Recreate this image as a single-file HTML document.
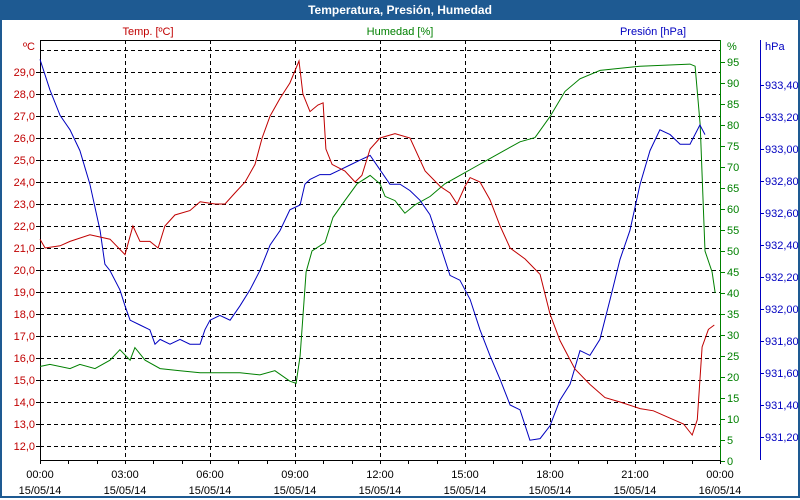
<!DOCTYPE html>
<html><head><meta charset="utf-8"><style>
body{margin:0;width:800px;height:500px;overflow:hidden;background:#fff;font-family:"Liberation Sans",sans-serif}
#frame{position:absolute;left:0;top:0;width:796px;height:496px;border:2px solid #1e5a92;border-top:none}
#title{position:absolute;left:0;top:0;width:800px;height:20px;background:#1e5a92;color:#fff;font-weight:bold;font-size:12px;text-align:center;line-height:20px}
</style></head><body>
<div id="frame"></div>
<div id="title">Temperatura, Presión, Humedad</div>
<svg id="chart" width="800" height="500" style="position:absolute;left:0;top:0" font-family="Liberation Sans, sans-serif" font-size="11"></svg>
<script>
const tempTicks=[12,13,14,15,16,17,18,19,20,21,22,23,24,25,26,27,28,29];
const humTicks=[0,5,10,15,20,25,30,35,40,45,50,55,60,65,70,75,80,85,90,95];
const presTicks=[931.2,931.4,931.6,931.8,932.0,932.2,932.4,932.6,932.8,933.0,933.2,933.4];
const timeLabels=["00:00","03:00","06:00","09:00","12:00","15:00","18:00","21:00","00:00"];
const dateLabels=["15/05/14","15/05/14","15/05/14","15/05/14","15/05/14","15/05/14","15/05/14","15/05/14","16/05/14"];
const tempTime=[0,0.18,0.71,1.06,1.76,2.47,3,3.28,3.53,3.88,4.17,4.41,4.76,5.29,5.65,6.18,6.53,6.88,7.24,7.59,7.84,8.12,8.47,8.82,9.14,9.28,9.53,9.81,9.99,10.09,10.31,10.76,11.12,11.36,11.65,12,12.53,13.06,13.59,14.12,14.47,14.72,15,15.18,15.53,15.88,16.24,16.59,17.12,17.65,18,18.35,18.88,19.41,19.94,20.47,21.18,21.65,22.18,22.71,23.02,23.2,23.37,23.59,23.8];
const tempVals=[21.4,21.0,21.1,21.3,21.6,21.4,20.7,22.0,21.3,21.3,21.0,22.0,22.5,22.7,23.1,23.0,23.0,23.5,24.0,24.8,26.0,27.0,27.8,28.5,29.5,28.0,27.2,27.5,27.6,25.5,24.8,24.5,24.0,24.3,25.5,26.0,26.2,26.0,24.5,23.8,23.5,23.0,23.8,24.2,24.0,23.2,22.0,21.0,20.5,19.8,18.0,16.8,15.5,14.8,14.2,14.0,13.7,13.6,13.3,13.0,12.5,13.2,16.5,17.3,17.5];
const humTime=[0,0.35,1.06,1.41,1.94,2.47,2.82,3.18,3.35,3.71,4.24,4.94,5.65,7.06,7.76,8.29,8.82,9.04,9.18,9.39,9.6,10.06,10.34,10.76,11.19,11.65,12,12.18,12.53,12.88,13.24,13.77,14.29,14.82,15.35,15.88,16.41,16.94,17.47,18,18.53,19.06,19.77,21.18,22.94,23.12,23.3,23.47,23.72,23.83];
const humVals=[22.5,23,22,23,22,24,26.5,24,27,24,22,21.5,21,21,20.5,21.5,19,18.5,25,45,50,52,58,62,66,68,66,63,62,59,61,63,66,68,70,72,74,76,77,82,88,91,93,94,94.5,94,80,50,45,40];
const presTime=[0,0.35,0.71,1.06,1.41,1.76,2.12,2.29,2.47,2.82,3,3.18,3.53,3.88,4.06,4.24,4.59,4.94,5.29,5.65,5.82,6,6.35,6.71,7.06,7.41,7.76,8.12,8.47,8.82,9.18,9.35,9.53,9.88,10.24,10.59,10.94,11.29,11.65,12,12.35,12.71,13.06,13.41,13.76,14.12,14.47,14.82,15.18,15.53,15.88,16.24,16.59,16.94,17.29,17.65,18,18.35,18.71,19.06,19.41,19.76,20.12,20.47,20.82,21.18,21.53,21.88,22.24,22.59,22.94,23.29,23.47];
const presVals=[933.56,933.37,933.21,933.12,932.99,932.78,932.49,932.28,932.24,932.12,932.02,931.93,931.90,931.87,931.78,931.81,931.78,931.81,931.78,931.78,931.87,931.93,931.96,931.93,932.02,932.12,932.24,932.40,932.49,932.62,932.65,932.78,932.81,932.84,932.84,932.87,932.90,932.93,932.96,932.87,932.78,932.78,932.74,932.68,932.59,932.40,932.21,932.18,932.06,931.87,931.71,931.56,931.40,931.37,931.18,931.19,931.27,931.43,931.53,931.74,931.71,931.81,932.06,932.31,932.49,932.78,932.99,933.12,933.09,933.03,933.03,933.15,933.09];
const X0=40,X1=720,Y0=40,Y1=460;
const xT=h=>X0+h*(X1-X0)/24;
const yTemp=t=>72+(29-t)*22;
const yHum=h=>461-h*4.2;
const yPres=p=>437-(p-931.2)*160;
const svg=document.getElementById('chart');
const NS='http://www.w3.org/2000/svg';
function mk(tag,a,parent){const e=document.createElementNS(NS,tag);for(const k in a)e.setAttribute(k,a[k]);(parent||svg).appendChild(e);return e;}
// gridlines
const grid=mk('g',{stroke:'#000','stroke-dasharray':'4,3','stroke-width':1});


[30].concat(tempTicks).forEach(t=>{const y=Math.round(yTemp(t))+0.5;mk('line',{x1:X0,x2:X1,y1:y,y2:y},grid);});
for(let i=1;i<8;i++){const x=Math.round(xT(i*3))+0.5;mk('line',{x1:x,x2:x,y1:Y0,y2:Y1},grid);}
// axes
const ax=mk('g',{'stroke-width':1});


mk('line',{x1:X0+0.5,x2:X0+0.5,y1:Y0,y2:Y1,stroke:'#000'},ax);
mk('line',{x1:X0,x2:X1+1,y1:Y0+0.5,y2:Y0+0.5,stroke:'#000'},ax);
mk('line',{x1:X0,x2:X1+1,y1:Y1+0.5,y2:Y1+0.5,stroke:'#000'},ax);
mk('line',{x1:X1+0.5,x2:X1+0.5,y1:Y0,y2:Y1,stroke:'#008000'},ax);
mk('line',{x1:760.5,x2:760.5,y1:Y0,y2:Y1,stroke:'#0000c0'},ax);
for(let i=0;i<=24;i++){const x=Math.round(xT(i))+0.5;mk('line',{x1:x,x2:x,y1:Y1,y2:Y1+4,stroke:'#000'},ax);}
// labels
function txt(s,x,y,fill,anchor,name){const t=mk('text',{x:x,y:y,fill:fill,'text-anchor':anchor||'start'});t.textContent=s;return t;}
tempTicks.forEach(t=>{const y=yTemp(t);mk('line',{x1:36,x2:40,y1:Math.round(y)+0.5,y2:Math.round(y)+0.5,stroke:'#000'});txt(t.toFixed(1).replace('.',','),35,y+4,'#c00000','end','temp-tick-label');});
txt('ºC',35,50,'#c00000','end','temp-unit');
humTicks.forEach(h=>{const y=yHum(h);mk('line',{x1:721,x2:725,y1:Math.round(y)+0.5,y2:Math.round(y)+0.5,stroke:'#008000'});txt(String(h),727,y+4,'#008000','start','humidity-tick-label');});
txt('%',727,50,'#008000','start','humidity-unit');
presTicks.forEach(p=>{const y=yPres(p);mk('line',{x1:760,x2:764,y1:Math.round(y)+0.5,y2:Math.round(y)+0.5,stroke:'#0000c0'});txt(p.toFixed(2).replace('.',','),765,y+4,'#0000c0','start','pressure-tick-label');});
txt('hPa',765,50,'#0000c0','start','pressure-unit');
timeLabels.forEach((s,i)=>{const x=xT(i*3);txt(s,x,478,'#000','middle','x-tick-time');txt(dateLabels[i],x,494,'#000','middle','x-tick-date');});
txt('Temp. [ºC]',148,35,'#c00000','middle','temp-series-label');
txt('Humedad [%]',400,35,'#008000','middle','humidity-series-label');
txt('Presión [hPa]',653,35,'#0000c0','middle','pressure-series-label');
// series
function line(times,vals,yf,color,name){const pts=times.map((t,i)=>xT(t).toFixed(1)+','+yf(vals[i]).toFixed(1)).join(' ');const p=mk('polyline',{points:pts,fill:'none',stroke:color,'stroke-width':1});}
line(humTime,humVals,yHum,'#008000','humidity-line');
line(presTime,presVals,yPres,'#0000c0','pressure-line');
line(tempTime,tempVals,yTemp,'#c00000','temperature-line');
</script>
</body></html>
